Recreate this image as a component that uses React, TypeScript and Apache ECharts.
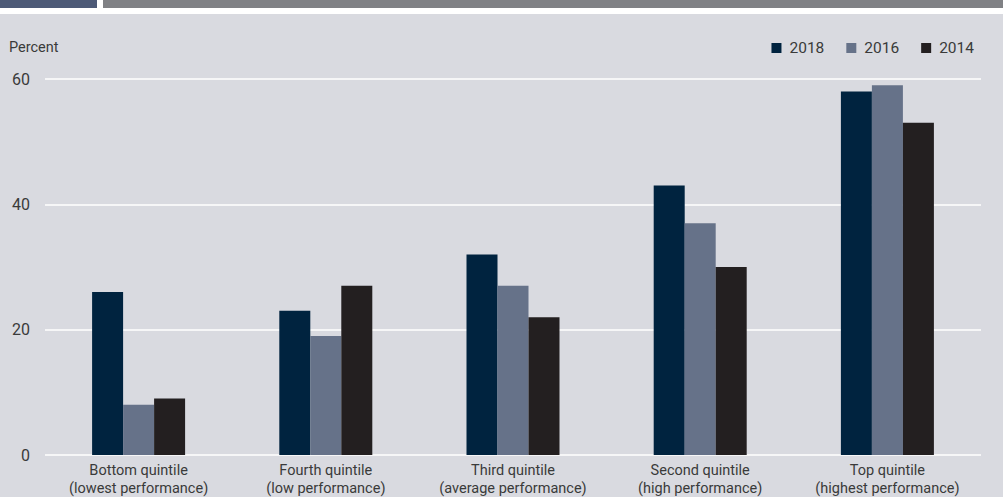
import React, { useEffect, useRef } from "react";
import * as echarts from "echarts";

const categories = [
  "Bottom quintile\n(lowest performance)",
  "Fourth quintile\n(low performance)",
  "Third quintile\n(average performance)",
  "Second quintile\n(high performance)",
  "Top quintile\n(highest performance)",
];
const s2018 = [26, 23, 32, 43, 58];
const s2016 = [8, 19, 27, 37, 59];
const s2014 = [9, 27, 22, 30, 53];
const seriesNames = ["2018", "2016", "2014"];
const colors = ["#00233f", "#667289", "#231f20"];

const FONT = "'Roboto', sans-serif";
const TEXT = "#3a3a3a";

export default function App() {
  const ref = useRef<HTMLDivElement>(null);
  useEffect(() => {
    if (!ref.current) return;
    const chart = echarts.init(ref.current, undefined, { renderer: "svg" });
    const data = [s2018, s2016, s2014];
    chart.setOption({
      animation: false,
      backgroundColor: "#ffffff",
      textStyle: { fontFamily: FONT },
      graphic: [
        { type: "rect", z: -10, shape: { x: 0, y: 14, width: 1003, height: 483 }, style: { fill: "#d9dae0" } },
        { type: "rect", z: -10, shape: { x: 0, y: 0, width: 97, height: 8 }, style: { fill: "#4d5a77" } },
        { type: "rect", z: -10, shape: { x: 103, y: 0, width: 900, height: 8 }, style: { fill: "#808185" } },
        {
          type: "text",
          left: 9,
          top: 40,
          style: { text: "Percent", fill: TEXT, font: `14.5px ${FONT}` },
        },
      ],
      legend: {
        right: 24,
        top: 35,
        icon: "rect",
        itemWidth: 10,
        itemHeight: 10,
        itemGap: 22,
        textStyle: { color: TEXT, fontSize: 15.5, fontFamily: FONT, padding: [0, 0, 0, 3] },
        data: seriesNames,
      },
      grid: { left: 45, right: 22, top: 79, bottom: 42, containLabel: false },
      xAxis: {
        type: "category",
        data: categories,
        axisLine: { show: false },
        axisTick: { show: false },
        axisLabel: {
          interval: 0,
          margin: 6,
          color: TEXT,
          fontSize: 14.5,
          lineHeight: 18,
          fontFamily: FONT,
        },
      },
      yAxis: {
        type: "value",
        min: 0,
        max: 60,
        interval: 20,
        axisLine: { show: false },
        axisTick: { show: false },
        splitLine: { lineStyle: { color: "#ffffff", width: 1.5 } },
        axisLabel: { color: TEXT, fontSize: 16, fontFamily: FONT, margin: 15 },
      },
      series: seriesNames.map((name, i) => ({
        name,
        type: "bar",
        data: data[i],
        barWidth: 31,
        barGap: "0%",
        itemStyle: { color: colors[i] },
      })),
    });
    return () => chart.dispose();
  }, []);
  return (
    <div
      ref={ref}
      style={{ position: "fixed", left: 0, top: 0, width: 1003, height: 497 }}
    />
  );
}
